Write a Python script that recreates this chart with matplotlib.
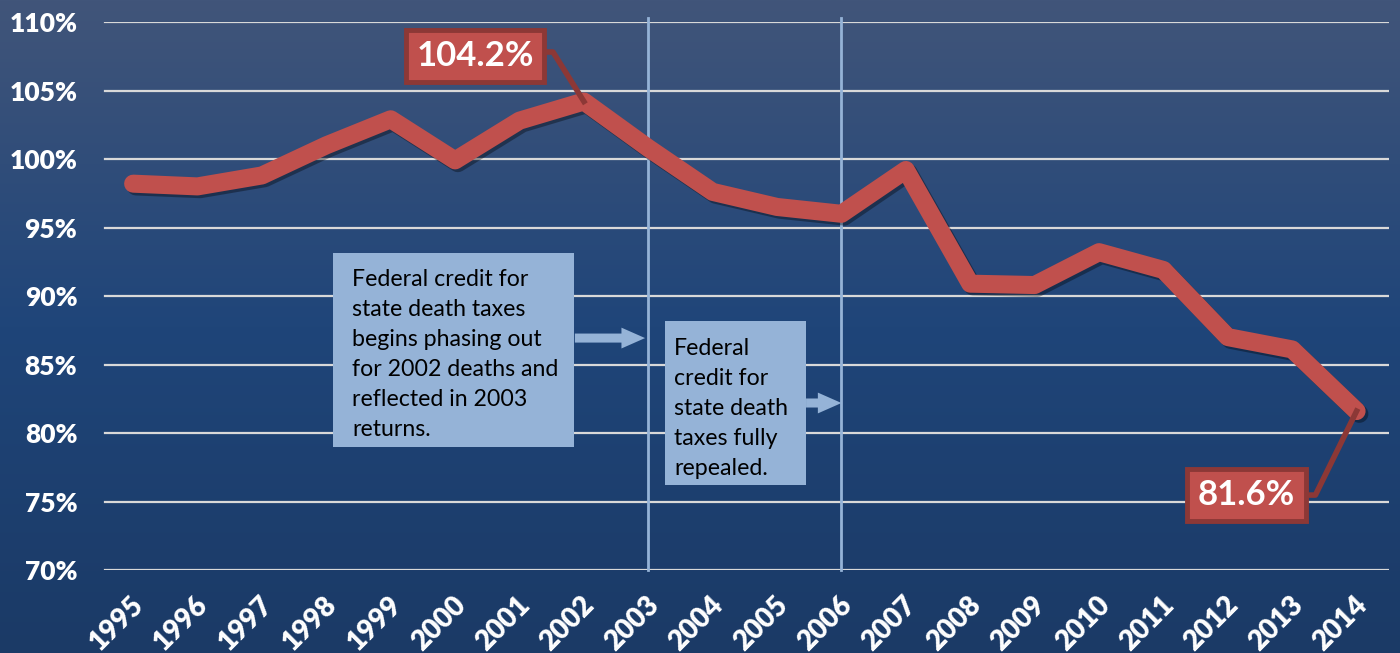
import numpy as np
import matplotlib.pyplot as plt
import matplotlib.patheffects as pe
from matplotlib.colors import LinearSegmentedColormap
from matplotlib.patches import Rectangle

years = [str(y) for y in range(1995, 2015)]
ratio = [98.2, 98.0, 98.8, 101.0, 102.9, 99.9, 102.8, 104.2, 100.8, 97.6,
         96.5, 96.0, 99.2, 90.9, 90.8, 93.2, 91.9, 87.0, 86.1, 81.6]
yticks = [70, 75, 80, 85, 90, 95, 100, 105, 110]
marker_years = ['2003', '2006']
note1 = "Federal credit for\nstate death taxes\nbegins phasing out\nfor 2002 deaths and\nreflected in 2003\nreturns."
note2 = "Federal\ncredit for\nstate death\ntaxes fully\nrepealed."

RED = '#c0504d'
DARK_RED = '#8c3836'
LIGHT_BLUE = '#95b3d7'


def main():
    plt.rcParams['font.family'] = ['Lato', 'DejaVu Sans']
    fig = plt.figure(figsize=(14, 6.53), dpi=100)

    # background gradient
    bg = fig.add_axes([0, 0, 1, 1], zorder=-5)
    cmap = LinearSegmentedColormap.from_list('bg', ['#41557a', '#1f4579', '#1b3a66'])
    bg.imshow(np.linspace(0, 1, 256).reshape(-1, 1), aspect='auto', cmap=cmap,
              extent=[0, 1, 0, 1])
    bg.axis('off')

    ax = fig.add_axes([0.0721, 0.1271, 0.9199, 0.8392])
    ax.set_facecolor('none')
    x = np.arange(len(years))
    ax.set_xlim(-0.5, len(years) - 0.5)
    ax.set_ylim(70, 110)

    for t in yticks:
        ax.axhline(t, color='#d9d9d9', lw=1.6, zorder=1, xmin=0.003)
    for yr in marker_years:
        i = years.index(yr)
        ax.plot([i, i], [70, 110.3], color=LIGHT_BLUE, lw=2, zorder=2, clip_on=False)

    ax.plot(x, ratio, color=RED, lw=13, solid_capstyle='round', solid_joinstyle='round',
            zorder=5, path_effects=[pe.SimpleLineShadow(offset=(2, -2), shadow_color='black', alpha=0.35),
                                    pe.Normal()])

    for s in ax.spines.values():
        s.set_visible(False)
    ax.set_yticks(yticks)
    ax.set_yticklabels([f'{t}%' for t in yticks], color='white', fontsize=19, fontweight='heavy')
    ax.tick_params(axis='y', length=0, pad=17)
    ax.set_xticks(x + 0.1)
    ax.set_xticklabels(years, rotation=45, ha='right', va='center', rotation_mode='anchor',
                       color='white', fontsize=20, fontweight='heavy')
    ax.tick_params(axis='x', length=0, pad=22)

    # callout labels
    i_max = years.index('2002')
    i_last = len(years) - 1
    ax.plot([6.40, 6.52, i_max], [107.81, 107.81, ratio[i_max]], color=DARK_RED, lw=4, zorder=6)
    ax.text(5.31, 107.52, f'{ratio[i_max]:.1f}%', ha='center', va='center', color='white',
            fontsize=25, fontweight='bold', zorder=7,
            bbox=dict(boxstyle='square,pad=0.3', fc=RED, ec=DARK_RED, lw=3.5))
    ax.plot([18.21, 18.36, i_last], [75.47, 75.47, ratio[i_last]], color=DARK_RED, lw=4, zorder=6)
    ax.text(17.29, 75.47, f'{ratio[i_last]:.1f}%', ha='center', va='center', color='white',
            fontsize=25, fontweight='bold', zorder=7,
            bbox=dict(boxstyle='square,pad=0.3', fc=RED, ec=DARK_RED, lw=3.5))

    # note boxes
    ax.add_patch(Rectangle((3.105, 78.98), 6.846 - 3.105, 93.14 - 78.98, fc=LIGHT_BLUE, ec='none', zorder=3))
    ax.text(3.40, 92.0, note1, ha='left', va='top', fontsize=16.7, color='black',
            linespacing=1.53, zorder=4)
    ax.add_patch(Rectangle((8.26, 76.2), 10.45 - 8.26, 88.18 - 76.2, fc=LIGHT_BLUE, ec='none', zorder=3))
    ax.text(8.40, 86.95, note2, ha='left', va='top', fontsize=16.7, color='black',
            linespacing=1.53, zorder=4)

    arrow = dict(arrowstyle='simple,head_width=1.5,head_length=1.7,tail_width=0.65',
                 fc=LIGHT_BLUE, ec='none', mutation_scale=10, shrinkA=0, shrinkB=0)
    ax.annotate('', xy=(7.95, 86.93), xytext=(6.86, 86.93), arrowprops=arrow, zorder=3)
    ax.annotate('', xy=(11.0, 82.19), xytext=(10.45, 82.19), arrowprops=arrow, zorder=3)

    fig.savefig('out.png', dpi=100)


if __name__ == '__main__':
    main()
